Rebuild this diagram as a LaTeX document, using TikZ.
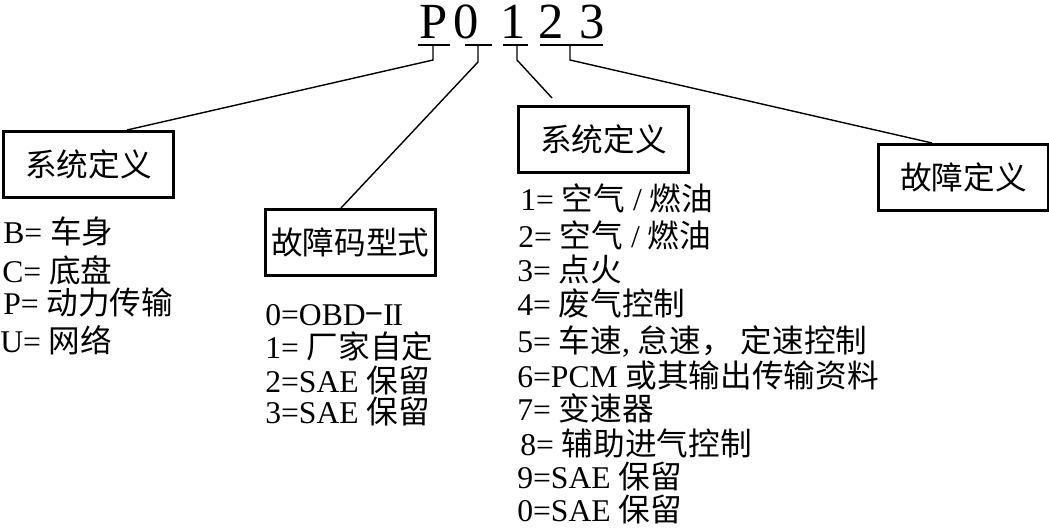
\documentclass[tikz,border=0pt]{standalone}
\usepackage{fontspec}
\setmainfont{Liberation Serif}
\newfontfamily\cjk{Noto Sans CJK SC}
\newcommand{\zh}[1]{{\cjk #1}}
\usetikzlibrary{calc}

\begin{document}
\begin{tikzpicture}[
  x=0.025cm, y=-0.025cm,
  every node/.style={inner sep=0pt},
  box/.style={draw, line width=2pt, anchor=north west, minimum width=4.25cm, minimum height=1.65cm, font=\fontsize{22.5}{26}\selectfont\cjk},
  item/.style={anchor=base west, font=\fontsize{22.5}{26}\selectfont},
  code/.style={anchor=base, font=\fontsize{36}{40}\selectfont},
  uline/.style={line width=1pt},
  link/.style={line width=1pt}
]
  \useasboundingbox (0,0) rectangle (1049,527);

  % Code P0123
  \node[code] (cP) at (434,38) {P};
  \node[code] (c0) at (466,38) {0};
  \node[code] (c1) at (513,38) {1};
  \node[code] (c2) at (551,38) {2};
  \node[code] (c3) at (592,38) {3};

  \draw[uline] (418,45) -- (450,45);
  \draw[uline] (465,45) -- (492,45);
  \draw[line width=2pt] (503,45) -- (528,45);
  \draw[uline] (540,45) -- (603,45);

  \coordinate (uP) at (433,45);  \coordinate (tP) at (433,60);
  \coordinate (u0) at (478,45);  \coordinate (t0) at (478,62);
  \coordinate (u1) at (517,45);  \coordinate (t1) at (517,60);
  \coordinate (u23) at (570,45); \coordinate (t23) at (570,60);

  % Boxes
  \node[box] (sysbox) at (2,130) {系统定义};
  \node[box] (typebox) at (264,208) {故障码型式};
  \node[box] (subbox) at (517,105) {系统定义};
  \node[box] (faultbox) at (877,143) {故障定义};

  \draw[link] (uP) -- (tP) -- ($(sysbox.north west)+(125,0)$);
  \draw[link] (u0) -- (t0) -- ($(typebox.north west)+(77,0)$);
  \draw[link] (u1) -- (t1) -- ($(subbox.north west)+(35,-7)$);
  \draw[link] (u23) -- (t23) -- ($(faultbox.north west)+(55,0)$);

  % System list
  \node[item] (sB) at (3,243) {B= \zh{车身}};
  \node[item] (sC) at (2,282) {C= \zh{底盘}};
  \node[item] (sP) at (3,314) {P= \zh{动力传输}};
  \node[item] (sU) at (0,352) {U= \zh{网络}};

  % Code type list
  \node[item] (k0) at (265,325) {0=OBD\zh{−}I\kern-0.04em I};
  \node[item] (k1) at (265,358) {1= \zh{厂家自定}};
  \node[item] (k2) at (265,392) {2=SAE \zh{保留}};
  \node[item] (k3) at (265,423) {3=SAE \zh{保留}};

  % Subsystem list
  \node[item] (m1) at (520,210) {1= \zh{空气} / \zh{燃油}};
  \node[item] (m2) at (518,247) {2= \zh{空气} / \zh{燃油}};
  \node[item] (m3) at (517,281) {3= \zh{点火}};
  \node[item] (m4) at (517,315) {4= \zh{废气控制}};
  \node[item] (m5) at (517,352) {5= \zh{车速}, \zh{怠速，} \zh{定速控制}};
  \node[item] (m6) at (517,387) {6=PCM \zh{或其输出传输资料}};
  \node[item] (m7) at (517,420) {7= \zh{变速器}};
  \node[item] (m8) at (520,455) {8= \zh{辅助进气控制}};
  \node[item] (m9) at (517,488) {9=SAE \zh{保留}};
  \node[item] (m0) at (517,521) {0=SAE \zh{保留}};
\end{tikzpicture}
\end{document}
